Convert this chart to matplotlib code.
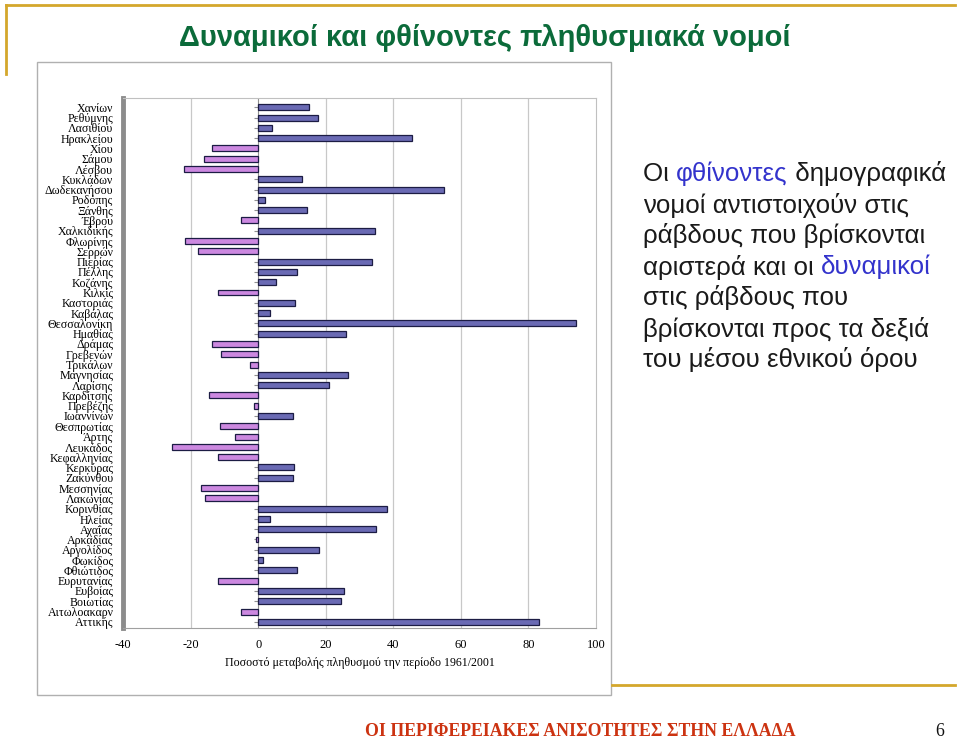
import matplotlib.pyplot as plt
from matplotlib.lines import Line2D
from matplotlib.patches import Rectangle

W, H = 959, 742

# νομοί (από πάνω προς τα κάτω)
nomoi = ["Χανίων", "Ρεθύμνης", "Λασιθίου", "Ηρακλείου", "Χίου", "Σάμου", "Λέσβου",
         "Κυκλάδων", "Δωδεκανήσου", "Ροδόπης", "Ξάνθης", "Έβρου", "Χαλκιδικής",
         "Φλωρίνης", "Σερρών", "Πιερίας", "Πέλλης", "Κοζάνης", "Κιλκίς", "Καστοριάς",
         "Καβάλας", "Θεσσαλονίκη", "Ημαθίας", "Δράμας", "Γρεβενών", "Τρικάλων",
         "Μαγνησίας", "Λαρίσης", "Καρδίτσης", "Πρεβέζης", "Ιωαννίνων", "Θεσπρωτίας",
         "Άρτης", "Λευκάδος", "Κεφαλληνίας", "Κερκύρας", "Ζακύνθου", "Μεσσηνίας",
         "Λακωνίας", "Κορινθίας", "Ηλείας", "Αχαΐας", "Αρκαδίας", "Αργολίδος",
         "Φωκίδος", "Φθιώτιδος", "Ευρυτανίας", "Ευβοίας", "Βοιωτίας", "Αιτωλοακαρν",
         "Αττικής"]

# ποσοστό μεταβολής πληθυσμού 1961/2001 (%)
metaboli = [15.2, 17.7, 4.0, 45.4, -13.8, -16.0, -21.8,
            13.0, 55.1, 2.1, 14.4, -5.0, 34.5,
            -21.7, -17.9, 33.6, 11.6, 5.3, -11.9, 10.8,
            3.6, 94.0, 26.0, -13.7, -11.0, -2.5,
            26.7, 21.1, -14.4, -1.3, 10.2, -11.3,
            -6.9, -25.4, -11.9, 10.6, 10.4, -16.9,
            -15.7, 38.0, 3.5, 34.8, -0.6, 17.9,
            1.4, 11.4, -11.8, 25.4, 24.4, -5.0,
            83.2]

xticks = [-40, -20, 0, 20, 40, 60, 80, 100]

col_pos = "#6a6ab4"
col_neg = "#cc88e0"
edge = "#1c1c44"

fig = plt.figure(figsize=(W / 100, H / 100), dpi=100)


def px_axes(x0, y0, x1, y1):
    return fig.add_axes([x0 / W, 1 - y1 / H, (x1 - x0) / W, (y1 - y0) / H])


# διακοσμητικές γραμμές διαφάνειας
gold = "#d4a72c"
fig.add_artist(Line2D([6 / W, 955 / W], [1 - 5 / H, 1 - 5 / H], color=gold, lw=2))
fig.add_artist(Line2D([6 / W, 6 / W], [1 - 5 / H, 1 - 74 / H], color=gold, lw=2))
fig.add_artist(Line2D([612 / W, 955 / W], [1 - 685 / H, 1 - 685 / H], color=gold, lw=2))

# πλαίσιο γραφήματος
fig.add_artist(Rectangle((37 / W, 1 - 695 / H), (611 - 37) / W, (695 - 62) / H,
                         fill=False, edgecolor="#b0b0b0", lw=1))

fig.text(485 / W, 1 - 38 / H, "Δυναμικοί και φθίνοντες πληθυσμιακά νομοί",
         ha="center", va="center", fontsize=21, fontweight="bold",
         color="#0b6b3a", family="Liberation Sans")

ax = px_axes(123, 98, 596, 628)
ypos = list(range(len(nomoi)))
colors = [col_pos if v >= 0 else col_neg for v in metaboli]
ax.barh(ypos, metaboli, height=0.58, color=colors, edgecolor=edge, linewidth=0.9,
        zorder=3)
ax.set_xlim(-40, 100)
ax.set_ylim(len(nomoi) - 0.4, -0.9)
ax.set_xticks(xticks)
ax.set_xticklabels([str(t) for t in xticks], family="Liberation Serif", fontsize=9)
ax.set_yticks(ypos)
ax.set_yticklabels(nomoi, family="Liberation Serif", fontsize=8.6)
ax.tick_params(axis="y", length=0, pad=7)
ax.tick_params(axis="x", length=0, pad=8)
for t in xticks[1:-1]:
    if t != 0:
        ax.axvline(t, color="#c8c8c8", lw=0.9, zorder=1)
ax.axvline(0, color="#909090", lw=0.8, zorder=2)
sec = ax.secondary_yaxis(40 / 140)
sec.set_yticks(ypos)
sec.set_yticklabels([])
sec.tick_params(length=3, color="#909090", direction="out")
sec.spines["left"].set_visible(False)
ax.spines["left"].set_color("#8c8c8c")
ax.spines["left"].set_linewidth(3.5)
ax.spines["bottom"].set_color("#a0a0a0")
ax.spines["top"].set_color("#c0c0c0")
ax.spines["right"].set_color("#c0c0c0")
ax.set_xlabel("Ποσοστό μεταβολής πληθυσμού την περίοδο 1961/2001",
              family="Liberation Serif", fontsize=8.6, labelpad=4)

# κείμενο επεξήγησης
lines = [
    [("Οι ", "#1a1a1a"), ("φθίνοντες", "#3333cc"), (" δημογραφικά", "#1a1a1a")],
    [("νομοί αντιστοιχούν στις", "#1a1a1a")],
    [("ράβδους που βρίσκονται", "#1a1a1a")],
    [("αριστερά και οι ", "#1a1a1a"), ("δυναμικοί", "#3333cc")],
    [("στις ράβδους που", "#1a1a1a")],
    [("βρίσκονται προς τα δεξιά", "#1a1a1a")],
    [("του μέσου εθνικού όρου", "#1a1a1a")],
]
fig.canvas.draw()
renderer = fig.canvas.get_renderer()
for i, parts in enumerate(lines):
    x = 643
    y = 174 + i * 31
    for txt, c in parts:
        t = fig.text(x / W, 1 - y / H, txt, ha="left", va="center", fontsize=18.6,
                     color=c, family="Liberation Sans")
        bb = t.get_window_extent(renderer)
        x += bb.width

fig.text(580 / W, 1 - 731 / H, "ΟΙ ΠΕΡΙΦΕΡΕΙΑΚΕΣ ΑΝΙΣΟΤΗΤΕΣ ΣΤΗΝ ΕΛΛΑΔΑ",
         ha="center", va="center", fontsize=12.8, fontweight="bold",
         color="#cc3311", family="Liberation Serif")
fig.text(940 / W, 1 - 731 / H, "6", ha="center", va="center", fontsize=12.8,
         color="#111111", family="Liberation Serif")

fig.savefig("out.png", dpi=100)
